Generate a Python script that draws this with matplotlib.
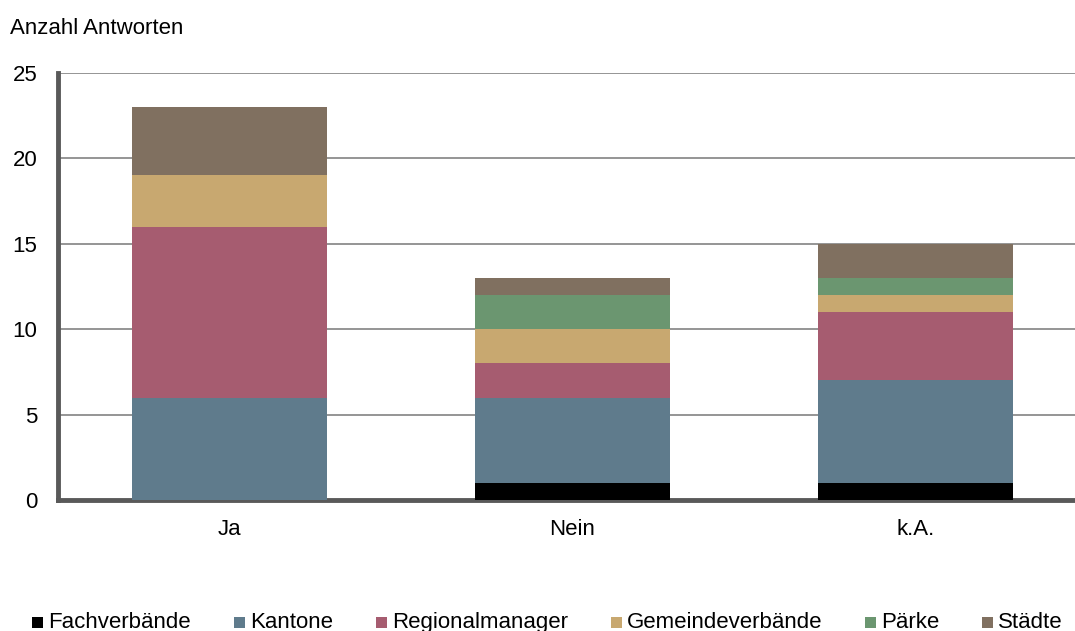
import matplotlib
matplotlib.use("Agg")
import matplotlib.pyplot as plt
from matplotlib.patches import Rectangle
import numpy as np

categories = ["Ja", "Nein", "k.A."]
series_names = ["Fachverbände", "Kantone", "Regionalmanager", "Gemeindeverbände", "Pärke", "Städte"]
fachverbaende = [0, 1, 1]
kantone = [6, 5, 6]
regionalmanager = [10, 2, 4]
gemeindeverbaende = [3, 2, 1]
paerke = [0, 2, 1]
staedte = [4, 1, 2]
colors = ["#000000", "#5f7b8c", "#a65c70", "#c8a870", "#6b9670", "#807060"]
yticks = [0, 5, 10, 15, 20, 25]

plt.rcParams['font.family'] = ['Liberation Sans', 'DejaVu Sans']

W, H = 1075, 631
fig = plt.figure(figsize=(W / 100, H / 100), dpi=100)
ax = fig.add_axes([58/W, 131/H, 1029/W, 427/H])

x = np.arange(len(categories))
bottom = np.zeros(len(categories))
for name, vals, c in zip(series_names, [fachverbaende, kantone, regionalmanager, gemeindeverbaende, paerke, staedte], colors):
    ax.bar(x, vals, bottom=bottom, width=0.57, color=c, label=name, zorder=3)
    bottom += np.array(vals)

ax.set_xlim(-0.5, 2.5)
ax.set_ylim(0, 25)
ax.set_yticks(yticks)
ax.set_xticks(x)
ax.set_xticklabels(categories, fontsize=16)
ax.tick_params(axis='y', labelsize=16, length=0, pad=15)
ax.tick_params(axis='x', length=0, pad=14)
ax.yaxis.grid(True, color="#8c8c8c", linewidth=1.3, zorder=0)
ax.set_axisbelow(True)
for s in ["top", "right"]:
    ax.spines[s].set_visible(False)
for s in ["left", "bottom"]:
    ax.spines[s].set_color("#595959")
    ax.spines[s].set_linewidth(3.5)

fig.text(10/W, 1 - 28/H, "Anzahl Antworten", fontsize=16, va="center", ha="left")

# manual legend, all labels on a common baseline
fig.canvas.draw()
renderer = fig.canvas.get_renderer()
baseline_px = 3
marker_px = 11
pad_px = 5
x_start, x_end = 32, 1063
texts = []
widths = []
for name in series_names:
    t = fig.text(0, baseline_px / H, name, fontsize=16, va="baseline", ha="left")
    texts.append(t)
    widths.append(t.get_window_extent(renderer).width)
total = sum(marker_px + pad_px + w for w in widths)
gap = (x_end - x_start - total) / (len(series_names) - 1)
cur = x_start
for t, w, c in zip(texts, widths, colors):
    fig.patches.append(Rectangle((cur / W, baseline_px / H), marker_px / W, marker_px / H,
                                 transform=fig.transFigure, facecolor=c, edgecolor="none"))
    t.set_x((cur + marker_px + pad_px) / W)
    cur += marker_px + pad_px + w + gap

fig.savefig("out.png", dpi=100)
